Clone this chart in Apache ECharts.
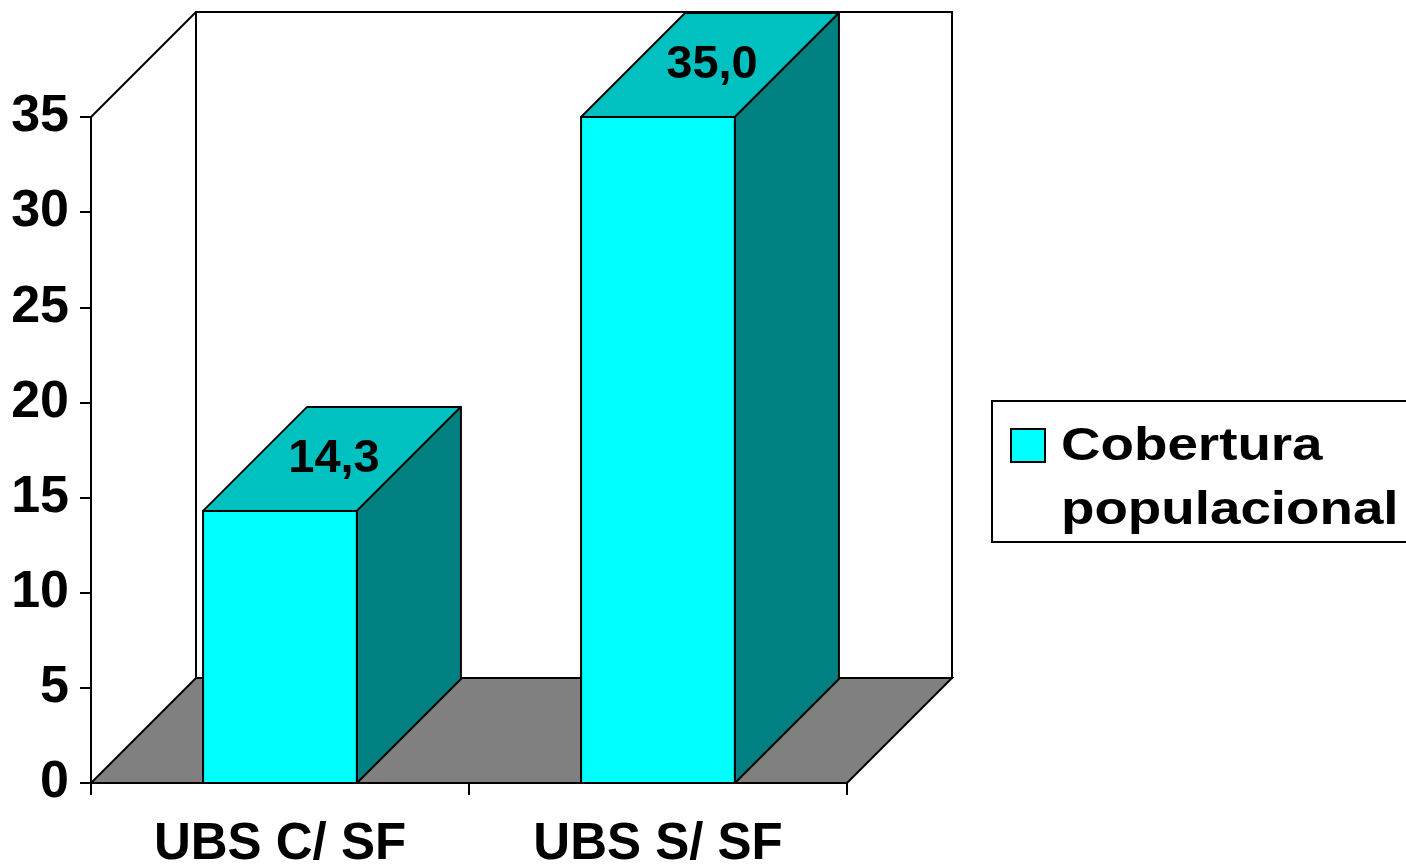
<!DOCTYPE html>
<html>
    <head>
        <meta charset="utf-8">
        <script src="https://cdn.jsdelivr.net/npm/echarts@6/dist/echarts.min.js"></script>
        <style>
            html, body {
                margin: 0;
                padding: 0;
                background: #fff;
            }
            #main {
                width: 1406px;
                height: 864px;
            }
        </style>
    </head>
    <body>
        <div id="main"></div>
        <script>
        // data
        const categories = ['UBS C/ SF', 'UBS S/ SF'];
        const coverage = [14.3, 35.0];
        const valueLabels = ['14,3', '35,0'];
        const seriesName = 'Cobertura populacional';
        const yMin = 0;
        const yMax = 35;
        const yStep = 5;

        const FONT = '"Liberation Sans", Arial, sans-serif';
        const WALL_DEPTH = 105;
        const BAR_DEPTH = 104;

        const chart = echarts.init(document.getElementById('main'));

        function renderFrame(params, api) {
            const cs = params.coordSys;
            const x0 = cs.x, y0 = cs.y, w = cs.width, h = cs.height;
            const d = WALL_DEPTH;
            const line = { stroke: '#000', lineWidth: 2 };
            return {
                type: 'group',
                children: [{
                    // back wall
                    type: 'rect',
                    shape: { x: x0 + d, y: y0 - d, width: w, height: h },
                    style: Object.assign({ fill: '#fff' }, line)
                }, {
                    // left wall top edge
                    type: 'line',
                    shape: { x1: x0, y1: y0, x2: x0 + d, y2: y0 - d },
                    style: line
                }, {
                    // floor
                    type: 'polygon',
                    shape: {
                        points: [[x0, y0 + h], [x0 + w, y0 + h], [x0 + w + d, y0 + h - d], [x0 + d, y0 + h - d]]
                    },
                    style: Object.assign({ fill: '#808080' }, line)
                }]
            };
        }

        function renderBar(params, api) {
            const idx = api.value(0);
            const top = api.coord([idx, api.value(1)]);
            const base = api.coord([idx, 0]);
            const bw = api.size([1, 0])[0] * 0.407;
            const d = BAR_DEPTH;
            const xl = top[0] - bw / 2;
            const xr = top[0] + bw / 2;
            const yt = top[1];
            const yb = base[1];
            const edge = { stroke: '#000', lineWidth: 2, lineJoin: 'round' };
            return {
                type: 'group',
                children: [{
                    type: 'polygon',
                    shape: { points: [[xl, yt], [xr, yt], [xr, yb], [xl, yb]] },
                    style: Object.assign({ fill: '#00ffff' }, edge)
                }, {
                    type: 'polygon',
                    shape: { points: [[xl, yt], [xr, yt], [xr + d, yt - d], [xl + d, yt - d]] },
                    style: Object.assign({ fill: '#00c0c0' }, edge)
                }, {
                    type: 'polygon',
                    shape: { points: [[xr, yt], [xr + d, yt - d], [xr + d, yb - d], [xr, yb]] },
                    style: Object.assign({ fill: '#008080' }, edge)
                }, {
                    type: 'text',
                    x: top[0] + d / 2 + 2,
                    y: yt - d / 2,
                    style: {
                        text: valueLabels[params.dataIndex],
                        fill: '#000',
                        font: 'bold 47px ' + FONT,
                        align: 'center',
                        verticalAlign: 'middle'
                    }
                }]
            };
        }

        chart.setOption({
            animation: false,
            backgroundColor: '#fff',
            grid: {
                left: 91,
                right: 559,
                top: 117,
                bottom: 81,
                outerBoundsMode: 'none'
            },
            xAxis: {
                type: 'category',
                data: categories,
                z: 5,
                axisLine: { lineStyle: { color: '#000', width: 2 } },
                axisTick: { show: true, interval: 0, length: 12, lineStyle: { color: '#000', width: 2 } },
                axisLabel: {
                    margin: 36,
                    color: '#000',
                    fontSize: 51,
                    fontWeight: 'bold',
                    fontFamily: FONT
                }
            },
            yAxis: {
                type: 'value',
                min: yMin,
                max: yMax,
                interval: yStep,
                axisLine: { show: true, lineStyle: { color: '#000', width: 2 } },
                axisTick: { show: true, length: 11, lineStyle: { color: '#000', width: 2 } },
                splitLine: { show: false },
                axisLabel: {
                    margin: 22,
                    color: '#000',
                    fontSize: 52,
                    fontWeight: 'bold',
                    fontFamily: FONT
                }
            },
            series: [{
                type: 'custom',
                name: 'frame',
                silent: true,
                z: 0,
                renderItem: renderFrame,
                data: [[0, 0]]
            }, {
                type: 'custom',
                name: seriesName,
                z: 2,
                renderItem: renderBar,
                data: coverage.map((v, i) => [i, v])
            }],
            graphic: [{
                type: 'group',
                left: 991,
                top: 400,
                children: [{
                    type: 'rect',
                    shape: { x: 0, y: 0, width: 440, height: 141 },
                    style: { fill: '#fff', stroke: '#000', lineWidth: 2 }
                }, {
                    type: 'rect',
                    shape: { x: 19, y: 28, width: 34, height: 33 },
                    style: { fill: '#00ffff', stroke: '#000', lineWidth: 2 }
                }, {
                    type: 'text',
                    x: 69,
                    y: 14,
                    scaleX: 1.19,
                    style: {
                        text: 'Cobertura\npopulacional',
                        fill: '#000',
                        font: 'bold 46px ' + FONT,
                        lineHeight: 64
                    }
                }]
            }]
        });
        </script>
    </body>
</html>
